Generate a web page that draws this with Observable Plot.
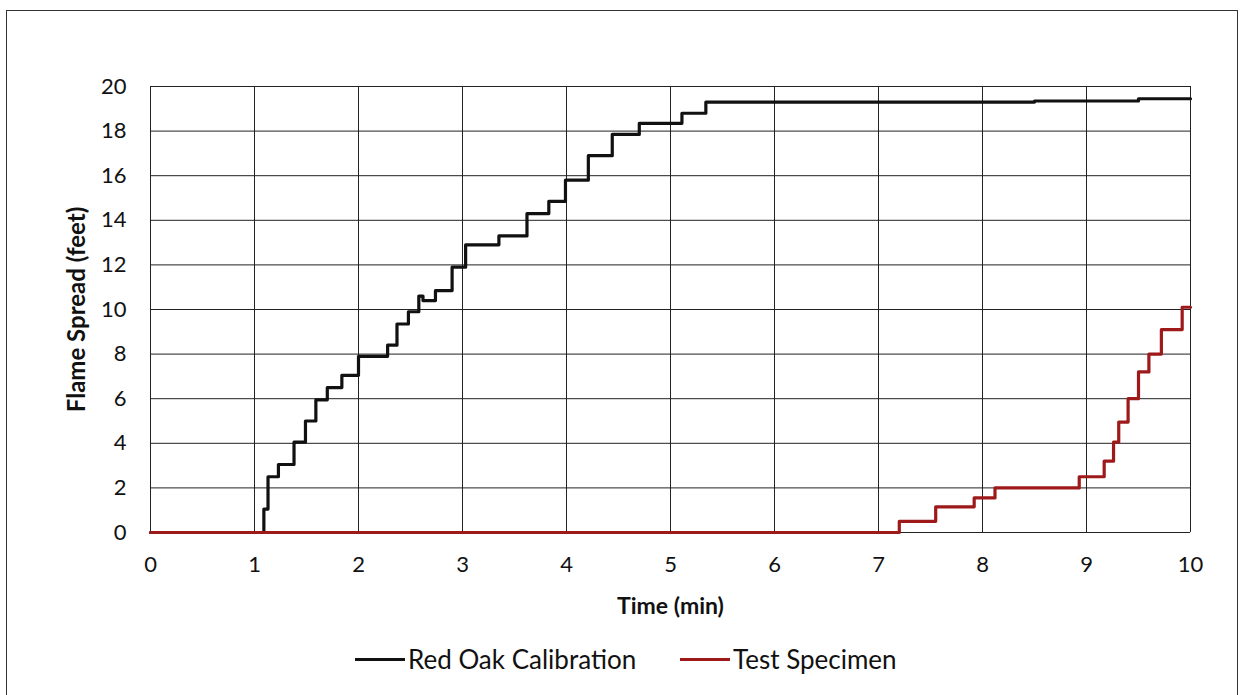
<!DOCTYPE html>
<html>
<head>
<meta charset="utf-8">
<script src="https://cdn.jsdelivr.net/npm/d3@7"></script>
<script src="https://cdn.jsdelivr.net/npm/@observablehq/plot@0.6"></script>
<style>
  html, body { margin: 0; padding: 0; background: #fff; }
  #wrap { position: relative; width: 1243px; height: 695px; overflow: hidden; font-family: Lato, "Open Sans", sans-serif; }
  #border { position: absolute; left: 6px; top: 10px; width: 1232px; height: 700px; border: 1.5px solid #333; box-sizing: border-box; }
  #chart { position: absolute; left: 0; top: 0; }
  #legend { position: absolute; top: 643px; left: 0; width: 1243px; height: 32px; font-size: 26px; color: #111; }
  .item { position: absolute; top: 0; display: flex; align-items: center; height: 32px; }
  .sw { width: 50px; height: 3px; margin-right: 3px; }
</style>
</head>
<body>
<div id="wrap">
  <div id="border"></div>
  <div id="chart"></div>
  <div id="legend"></div>
</div>
<script>
// Series: step changes (time in min, flame spread in feet)
const oakTime  = [0, 1.09, 1.13, 1.23, 1.38, 1.49, 1.59, 1.70, 1.84, 2.00, 2.28, 2.37, 2.48, 2.58, 2.62, 2.74, 2.90, 3.03, 3.35, 3.62, 3.83, 3.99, 4.21, 4.44, 4.70, 5.11, 5.34, 7.00, 8.50, 9.50, 10.0];
const oakSpread = [0, 1.05, 2.5, 3.05, 4.05, 5.0, 5.95, 6.5, 7.05, 7.9, 8.4, 9.35, 9.9, 10.6, 10.4, 10.85, 11.9, 12.9, 13.3, 14.3, 14.85, 15.8, 16.9, 17.85, 18.35, 18.8, 19.3, 19.3, 19.35, 19.45, 19.45];
const specTime  = [0, 7.20, 7.55, 7.92, 8.12, 8.93, 9.17, 9.26, 9.31, 9.40, 9.50, 9.60, 9.72, 9.92, 10.0];
const specSpread = [0, 0.5, 1.15, 1.55, 2.0, 2.5, 3.2, 4.05, 4.95, 6.0, 7.2, 8.0, 9.1, 10.1, 10.1];
const seriesNames = ["Red Oak Calibration", "Test Specimen"];
const seriesColors = ["#111111", "#9e1a1a"];
const xTicks = [0, 1, 2, 3, 4, 5, 6, 7, 8, 9, 10];
const yTicks = [0, 2, 4, 6, 8, 10, 12, 14, 16, 18, 20];
const xTitle = "Time (min)";
const yTitle = "Flame Spread (feet)";

const oak = oakTime.map((t, i) => ({t, v: oakSpread[i]}));
const spec = specTime.map((t, i) => ({t, v: specSpread[i]}));

const H = 630;
const chart = Plot.plot({
  width: 1243,
  height: H,
  marginLeft: 150,
  marginRight: 53,
  marginTop: 86,
  marginBottom: H - 532,
  style: {fontFamily: "Lato, 'Open Sans', sans-serif", fontSize: "22px", color: "#111", background: "transparent"},
  x: {domain: [0, 10], ticks: xTicks, tickSize: 0, label: null},
  y: {domain: [0, 20], ticks: yTicks, tickSize: 0, label: null},
  marks: [
    Plot.gridX(xTicks, {stroke: "#222", strokeOpacity: 1, strokeWidth: 1}),
    Plot.gridY(yTicks, {stroke: "#222", strokeOpacity: 1, strokeWidth: 1}),
    Plot.axisX({ticks: xTicks, tickSize: 0, tickPadding: 24, fontSize: 22}),
    Plot.axisY({ticks: yTicks, tickSize: 0, tickPadding: 24, fontSize: 22}),
    Plot.lineY(oak, {x: "t", y: "v", curve: "step-after", stroke: seriesColors[0], strokeWidth: 3.2}),
    Plot.lineY(spec, {x: "t", y: "v", curve: "step-after", stroke: seriesColors[1], strokeWidth: 3.2}),
    Plot.text([xTitle], {frameAnchor: "bottom", dy: 74, lineAnchor: "middle", fontWeight: "bold", fontSize: 23, fill: "#111"}),
    Plot.text([yTitle], {frameAnchor: "left", dx: -73, rotate: -90, textAnchor: "middle", lineAnchor: "middle", fontWeight: "bold", fontSize: 24, fill: "#111"})
  ]
});
document.getElementById("chart").appendChild(chart);

const legend = document.getElementById("legend");
const legendX = [355, 680];
seriesNames.forEach((name, i) => {
  const it = document.createElement("div");
  it.className = "item";
  it.style.left = legendX[i] + "px";
  const sw = document.createElement("div");
  sw.className = "sw";
  sw.style.background = seriesColors[i];
  const tx = document.createElement("span");
  tx.textContent = name;
  it.appendChild(sw);
  it.appendChild(tx);
  legend.appendChild(it);
});
</script>
</body>
</html>
